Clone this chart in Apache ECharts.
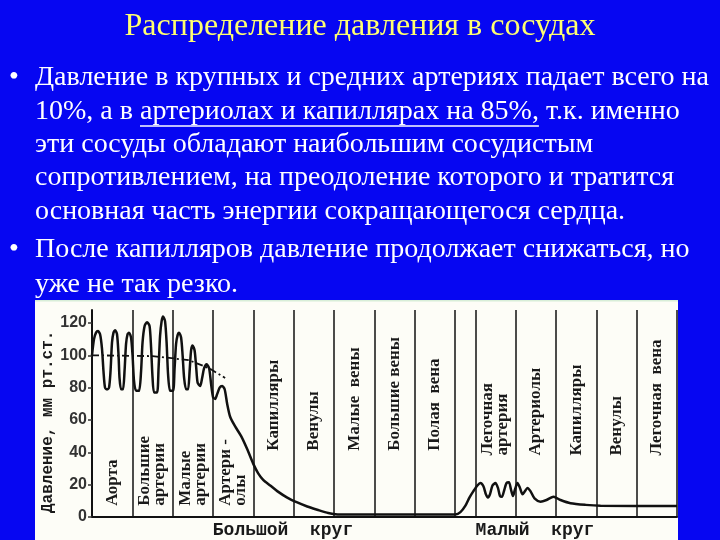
<!DOCTYPE html>
<html><head><meta charset="utf-8">
<script src="https://cdn.jsdelivr.net/npm/echarts@6/dist/echarts.min.js"></script>
<style>html,body{margin:0;padding:0;background:#0606F2;}#c{width:720px;height:540px;}</style>
</head><body><div id="c"></div>
<script>
// ---- data ----
const titleText = 'Распределение давления в сосудах';
const bulletLines = [
  'Давление в крупных и средних артериях падает всего на',
  '10%, а в артериолах и капиллярах на 85%, т.к. именно',
  'эти сосуды обладают наибольшим сосудистым',
  'сопротивлением, на преодоление которого и тратится',
  'основная часть энергии сокращающегося сердца.',
  'После капилляров давление продолжает снижаться, но',
  'уже не так резко.'
];
const bulletStarts = [0, 5];
const underlinePrefix = '10%, а в ';
const underlineText = 'артериолах и капиллярах на 85%,';
const yAxisTitle = 'Давление, мм рт.ст.';
const yTicks = [0, 20, 40, 60, 80, 100, 120];
const circleNames = ['Большой  круг', 'Малый  круг'];
// section boundaries in vessel-segment units
const sectionBounds = [0, 1, 2, 3, 4, 5, 6, 7, 8, 9, 9.5, 10.5, 11.5, 12.5, 13.5, 14.5];
const sectionNames = ['Аорта', 'Большие\nартерии', 'Малые\nартерии', 'Артери -\nолы', 'Капилляры', 'Венулы',
  'Малые  вены', 'Большие вены', 'Полая  вена', null, 'Легочная\nартерия', 'Артериолы', 'Капилляры', 'Венулы', 'Легочная  вена'];
// pressure curve (mm Hg), position in segment units
const curveX = [
  0, 0.05, 0.10, 0.149, 0.20, 0.248, 0.285, 0.323, 0.372, 0.422,
  0.459, 0.496, 0.533, 0.571, 0.620, 0.658, 0.682, 0.720, 0.769,
  0.806, 0.844, 0.881, 0.918, 0.968, 1.005, 1.042, 1.092, 1.166,
  1.216, 1.253, 1.303, 1.365, 1.427, 1.464, 1.501, 1.538, 1.613,
  1.650, 1.687, 1.725, 1.762, 1.811, 1.849, 1.886, 1.935, 2.010,
  2.047, 2.084, 2.122, 2.159, 2.208, 2.246, 2.283, 2.332, 2.382,
  2.419, 2.456, 2.494, 2.543, 2.581, 2.618, 2.680,
  2.730, 2.779, 2.841, 2.903, 2.953, 3.002, 3.052,
  3.102, 3.164, 3.226, 3.288, 3.350, 3.424, 3.548, 3.697, 3.846, 3.995, 4.119, 4.243, 4.417, 4.591,
  4.839, 5.087, 5.335, 5.583, 5.856, 6.154, 9.007,
  9.132, 9.256, 9.355, 9.454, 9.553, 9.628, 9.702, 9.764, 9.814, 9.864, 9.926, 10.0,
  10.062, 10.112, 10.161, 10.211, 10.273, 10.335, 10.385, 10.434, 10.484, 10.546, 10.608, 10.670, 10.732, 10.794,
  10.868, 10.968, 11.117, 11.266, 11.439, 11.613, 11.861, 12.233, 12.605, 14.5];
const curveY = [
  100, 110, 114, 115, 113, 104, 90, 80, 79, 80,
  90, 108, 114, 115.5, 113, 100, 86, 79, 79,
  90, 107, 113, 114, 111, 100, 84, 78, 78,
  90, 108, 118, 120.5, 118, 105, 86, 77, 77,
  92, 112, 121, 124, 121, 108, 88, 78, 78,
  92, 107, 112.5, 114, 111, 100, 86, 79, 79,
  90, 103, 106, 103, 93, 83, 81,
  86, 92, 94.5, 92, 82, 74, 73,
  76, 80, 81, 79, 70, 62, 56, 50, 42, 33, 27, 23, 19.5, 16,
  12, 9, 6.5, 4.5, 2.5, 1.5, 1.5,
  3, 7, 12, 16, 19.5, 21, 19, 14, 12, 14, 19.5, 21,
  18, 13, 12.5, 16, 21, 21.5, 17, 13, 17, 21, 18, 14, 16, 18,
  16, 11.5, 9.5, 10.5, 12.5, 10.5, 8.5, 7.5, 7, 6.8];
// mean pressure (dash-dot)
const meanX = [0, 1.5, 2.4, 2.9, 3.3];
const meanY = [100, 99.5, 97, 92, 86];

// ---- chart ----
const chart = echarts.init(document.getElementById('c'));
const ctx = document.createElement('canvas').getContext('2d');
const bodyFont = '28px "Liberation Serif"';
ctx.font = bodyFont;
const ulStart = 35 + ctx.measureText(underlinePrefix).width;
const ulWidth = ctx.measureText(underlineText).width;
const lineY = [78, 112, 145, 178, 212, 250, 285];

const graphics = [
  {type: 'rect', shape: {x: 35, y: 300, width: 643, height: 240}, style: {fill: '#FDFDF7'}, z: -10},
  {type: 'rect', shape: {x: 35, y: 300, width: 643, height: 1.5}, style: {fill: '#D8EED8'}, z: -9},
  {type: 'text', x: 360, y: 27, style: {text: titleText, font: '32px "Liberation Serif"', fill: '#FFFF70', align: 'center', verticalAlign: 'middle'}},
  {type: 'line', shape: {x1: ulStart, y1: lineY[1] + 14, x2: ulStart + ulWidth, y2: lineY[1] + 14}, style: {stroke: '#FFFFFF', lineWidth: 1.5}},
  {type: 'text', x: 48, y: 513, rotation: Math.PI / 2, style: {text: yAxisTitle, font: 'bold 16px "Liberation Mono"', fill: '#1a1a1a', align: 'left', verticalAlign: 'middle'}},
  {type: 'text', x: 283, y: 530, style: {text: circleNames[0], font: 'bold 18px "Liberation Mono"', fill: '#1a1a1a', align: 'center', verticalAlign: 'middle'}},
  {type: 'text', x: 535, y: 530, style: {text: circleNames[1], font: 'bold 18px "Liberation Mono"', fill: '#1a1a1a', align: 'center', verticalAlign: 'middle'}}
];
bulletLines.forEach((t, i) => {
  graphics.push({type: 'text', x: 35, y: lineY[i], style: {text: t, font: bodyFont, fill: '#FFFFFF', align: 'left', verticalAlign: 'middle'}});
});
bulletStarts.forEach(i => {
  graphics.push({type: 'text', x: 9, y: lineY[i], style: {text: '•', font: bodyFont, fill: '#FFFFFF', align: 'left', verticalAlign: 'middle'}});
});

const sectionData = sectionNames.map((n, i) => [(sectionBounds[i] + sectionBounds[i + 1]) / 2, 0, n]);

chart.setOption({
  animation: false,
  backgroundColor: 'transparent',
  grid: {left: 92, right: 43, top: 310, bottom: 23},
  xAxis: {type: 'value', min: 0, max: 14.5, axisLine: {lineStyle: {color: '#111', width: 2}}, axisTick: {show: false}, axisLabel: {show: false}, splitLine: {show: false}},
  yAxis: {type: 'value', min: 0, max: 128,
    axisLine: {show: true, lineStyle: {color: '#111', width: 2}},
    axisTick: {show: true, customValues: yTicks, length: 4, lineStyle: {color: '#333', width: 1.5}},
    axisLabel: {customValues: yTicks, color: '#333', fontFamily: 'Liberation Sans', fontWeight: 'bold', fontSize: 16, margin: 5},
    splitLine: {show: false}},
  graphic: graphics,
  series: [
    {type: 'line', data: curveX.map((x, i) => [x, curveY[i]]), smooth: 0.25, symbol: 'none',
      lineStyle: {color: '#111', width: 2.5}, z: 5,
      markLine: {silent: true, symbol: ['none', 'none'], label: {show: false},
        lineStyle: {color: '#111', width: 1.5, type: 'solid'},
        data: sectionBounds.slice(1).map(v => ({xAxis: v}))}},
    {type: 'line', data: meanX.map((x, i) => [x, meanY[i]]), smooth: false, symbol: 'none',
      lineStyle: {color: '#111', width: 1.8, type: [7, 3, 2, 3]}, z: 4},
    {type: 'custom', data: sectionData, clip: false, silent: true,
      renderItem: function (params, api) {
        const i = params.dataIndex;
        const name = sectionNames[i];
        if (!name) return null;
        const bottom = i < 4 ? 7 : (i < 9 ? 41 : 38);
        const p = api.coord([api.value(0), bottom]);
        return {type: 'text', x: p[0], y: p[1], rotation: Math.PI / 2,
          style: {text: name, font: 'bold 17px "Liberation Serif"', fill: '#1a1a1a', align: 'left', verticalAlign: 'middle', lineHeight: 15}};
      }}
  ]
});
</script></body></html>
